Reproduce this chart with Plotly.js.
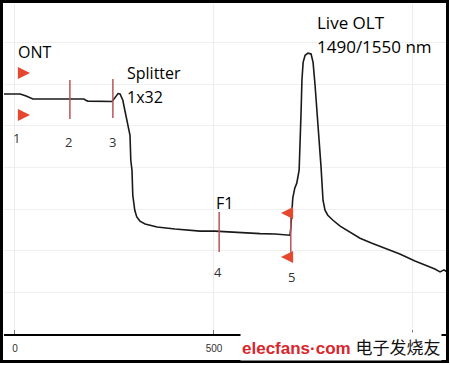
<!DOCTYPE html>
<html><head><meta charset="utf-8">
<script src="https://cdn.plot.ly/plotly-3.0.1.min.js"></script>
<style>body{margin:0;background:#fff}#c{width:450px;height:365px}</style>
</head><body><div id="c"></div>
<script>
// OTDR trace: distance (m) and relative level (dB-like units)
const distance = [-30, 13, 28, 45, 113, 173, 178, 183, 244, 251, 259, 264, 271, 276, 284, 289, 291, 294, 296, 301, 306, 314, 327, 357, 402, 440, 465, 502, 540, 578, 616, 653, 678, 691, 693, 696, 698, 703, 708, 714, 716, 719, 721, 724, 729, 736, 744, 749, 754, 759, 764, 769, 774, 779, 786, 799, 817, 842, 867, 897, 930, 967, 1005, 1030, 1055, 1068, 1078, 1084];
const level = [5.76, 5.76, 5.71, 5.64, 5.64, 5.64, 5.61, 5.59, 5.58, 5.66, 5.77, 5.76, 5.61, 5.37, 5.01, 4.77, 4.17, 3.93, 3.33, 2.97, 2.81, 2.71, 2.64, 2.57, 2.52, 2.49, 2.47, 2.47, 2.45, 2.42, 2.41, 2.40, 2.37, 2.37, 2.54, 2.93, 3.26, 3.50, 3.62, 3.93, 4.41, 5.37, 6.09, 6.52, 6.69, 6.74, 6.72, 6.52, 5.97, 5.37, 4.65, 4.01, 3.21, 2.97, 2.85, 2.73, 2.59, 2.45, 2.30, 2.18, 2.06, 1.92, 1.75, 1.66, 1.56, 1.49, 1.54, 1.50];
const eventLabels = ['1', '2', '3', '4', '5'];
const eventDist = [0, 138, 246, 513, 693];
const tickVals = [0, 500, 1000];
const tickText = ['0', '500', '']; // the 1000 label is hidden under the watermark

const L = 4, R = 4, T = 4, B = 31, W = 450, H = 365;
const pw = W - L - R, ph = H - T - B;
const px = p => (p - L) / pw;          // pixel -> paper x
const py = p => (H - B - p) / ph;      // pixel -> paper y

const markerColor = '#b9545c';
const arrowColor = '#e5472f';
const shapes = [];
const markerSpan = {2: [80, 119], 3: [79, 118], 4: [212, 252], 5: [212, 258]};
eventLabels.forEach((lab, i) => {
  const s = markerSpan[lab];
  if (!s) return;
  shapes.push({type: 'line', xref: 'x', yref: 'paper', x0: eventDist[i], x1: eventDist[i],
    y0: py(s[0]), y1: py(s[1]), line: {color: markerColor, width: 1.5}});
});
shapes.push({type: 'rect', xref: 'paper', yref: 'paper', x0: px(1.5), x1: px(447.5),
  y0: py(361.5), y1: py(1.5), line: {color: '#000', width: 3}});

const font = {family: 'Open Sans, Noto Sans, sans-serif', color: '#000'};
const ann = [];
function txt(t, x, y, size, opts) {
  ann.push(Object.assign({text: t, xref: 'paper', yref: 'paper', x: px(x), y: py(y),
    showarrow: false, font: Object.assign({}, font, {size: size}), xanchor: 'left', yanchor: 'middle'}, opts || {}));
}
txt('ONT', 16, 52, 16);
txt('Splitter', 125, 73, 16);
txt('1x32', 125, 97, 16);
txt('Live OLT', 315, 22, 17);
txt('1490/1550 nm', 315, 47, 17);
txt('F1', 214, 203, 16);
const labelPos = {'1': [16, 138], '2': [68, 142], '3': [112, 142], '4': [218, 272], '5': [291, 277]};
eventLabels.forEach(l => txt(l, labelPos[l][0], labelPos[l][1], 13, {xanchor: 'center', font: {family: font.family, size: 13, color: '#333'}}));
function arrow(xTip, y, dx) {
  ann.push({text: '', xref: 'paper', yref: 'paper', x: px(xTip), y: py(y), ax: dx, ay: 0,
    showarrow: true, arrowhead: 2, arrowsize: 1.1, arrowwidth: 2.2, arrowcolor: arrowColor});
}
arrow(30, 73, -12);
arrow(30, 115, -12);
arrow(281, 213, 10);
arrow(281, 257, 10);
ann.push({text: '<b>elecfans·com</b> <span style="color:#111;font-family:Noto Sans CJK SC">电子发烧友</span>',
  xref: 'paper', yref: 'paper', x: px(240), y: py(346), xanchor: 'left', yanchor: 'middle', showarrow: false,
  bgcolor: '#fff', font: {family: 'Liberation Sans, Arial, sans-serif', size: 17, color: '#d8262c'}});

Plotly.newPlot('c', [{
  x: distance, y: level, type: 'scatter', mode: 'lines',
  line: {color: '#1a1a1a', width: 1.6}, hoverinfo: 'skip'
}], {
  width: W, height: H, margin: {l: L, r: R, t: T, b: B},
  paper_bgcolor: '#fff', plot_bgcolor: '#fff', showlegend: false,
  xaxis: {range: [-27.6, 1083], tickvals: tickVals, ticktext: tickText, showline: true,
    linecolor: '#000', linewidth: 2, ticks: 'inside', ticklen: 4, tickcolor: '#777',
    ticklabelstandoff: 4,
    showgrid: true, gridcolor: '#ececec', zeroline: false,
    tickfont: {family: 'Liberation Sans, Arial, sans-serif', size: 10, color: '#333'}},
  yaxis: {range: [0, 7.92], dtick: 1, showticklabels: false, showgrid: true,
    gridcolor: '#efefef', zeroline: false, showline: false, fixedrange: true},
  shapes: shapes, annotations: ann
}, {staticPlot: true});
</script></body></html>
